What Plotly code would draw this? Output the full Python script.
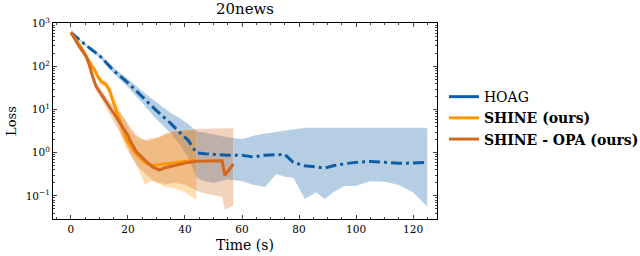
import plotly.graph_objects as go

# ---------------- data ----------------
hoag_t = [0, 5, 10, 15, 20, 25, 30, 35, 38, 41, 44, 47, 50, 55, 60, 64, 68, 72, 75, 78, 82, 86, 89, 92, 96, 100, 105, 110, 115, 120, 125]
hoag_y = [620, 320, 180, 80, 42, 20, 9.5, 4.8, 3.0, 2.0, 1.0, 0.95, 0.92, 0.88, 0.88, 0.8, 0.88, 0.92, 0.92, 0.6, 0.5, 0.47, 0.44, 0.5, 0.56, 0.6, 0.63, 0.6, 0.57, 0.58, 0.6]
hoag_hi = [650, 340, 200, 95, 52, 27, 15, 8.5, 6.5, 4.8, 3.2, 2.9, 2.7, 2.3, 2.1, 2.5, 2.8, 3.1, 3.3, 3.5, 3.8, 3.8, 3.8, 3.8, 3.8, 3.8, 3.8, 3.8, 3.8, 3.8, 3.8]
hoag_lo = [590, 300, 160, 68, 33, 14, 6.0, 2.8, 1.6, 0.8, 0.26, 0.22, 0.2, 0.24, 0.22, 0.18, 0.16, 0.32, 0.28, 0.26, 0.085, 0.12, 0.085, 0.12, 0.17, 0.17, 0.22, 0.21, 0.18, 0.12, 0.056]

shine_t = [0, 2, 4.1, 6.4, 8.2, 9.4, 10.5, 12.3, 13.4, 14.6, 15.8, 17, 18.1, 19.5, 21, 22.5, 24, 26, 28, 30, 33, 36, 40, 44]
shine_y = [620, 400, 245, 131, 86, 59, 46, 38, 29.5, 17, 10, 5.9, 3.5, 2.0, 1.4, 1.0, 0.8, 0.6, 0.5, 0.52, 0.55, 0.58, 0.64, 0.68]
shine_hi = [650, 440, 275, 150, 100, 70, 55, 46, 37, 23, 15, 10, 7, 5, 3.2, 2.5, 2.1, 2.0, 2.2, 2.3, 2.6, 3.0, 3.2, 3.4]
shine_lo = [590, 360, 215, 112, 72, 49, 38, 31, 23, 12, 6.5, 3.5, 2.0, 1.2, 0.85, 0.6, 0.35, 0.18, 0.22, 0.2, 0.16, 0.15, 0.12, 0.08]

opa_t = [0, 2.9, 5.3, 6.4, 7.6, 8.8, 11.1, 13.4, 15.8, 18.1, 19.9, 20.7, 23, 26.5, 29, 31, 33, 36, 40, 44, 48, 53, 54, 57]
opa_y = [620, 293, 173, 110, 59, 35, 20.5, 12, 7, 4.2, 2.6, 1.95, 1.05, 0.62, 0.45, 0.4, 0.45, 0.5, 0.58, 0.64, 0.65, 0.65, 0.3, 0.55]
opa_hi = [650, 330, 200, 130, 72, 43, 26, 16, 11, 7.5, 5, 4, 2.6, 1.9, 2.1, 2.3, 2.8, 3.3, 3.5, 3.6, 3.7, 3.7, 3.7, 3.7]
opa_lo = [590, 260, 150, 92, 48, 28, 15.5, 8, 4, 2.2, 1.3, 0.95, 0.5, 0.3, 0.22, 0.2, 0.18, 0.2, 0.18, 0.13, 0.11, 0.095, 0.047, 0.06]

x_ticks = [0, 20, 40, 60, 80, 100, 120]
y_tickvals = [0.1, 1, 10, 100, 1000]
y_ticktext = ["10<sup>\u22121</sup>", "10<sup>0</sup>", "10<sup>1</sup>", "10<sup>2</sup>", "10<sup>3</sup>"]

series_names = ["HOAG", "<b>SHINE (ours)</b>", "<b>SHINE - OPA (ours)</b>"]
colors = ["#0C5DA5", "#FF9500", "#D2691E"]
fills = ["rgba(12,93,165,0.3)", "rgba(255,149,0,0.3)", "rgba(210,105,30,0.3)"]

FONT = "DejaVu Serif"
XR = [-6.3, 128.4]
YR = [-1.535, 3.01]

fig = go.Figure()

series = [(hoag_t, hoag_y, hoag_hi, hoag_lo), (shine_t, shine_y, shine_hi, shine_lo), (opa_t, opa_y, opa_hi, opa_lo)]

# bands
for (t, y, hi, lo), fc in zip(series, fills):
    fig.add_trace(go.Scatter(x=list(t) + list(t)[::-1], y=list(hi) + list(lo)[::-1],
                             fill="toself", fillcolor=fc, mode="lines",
                             line=dict(width=0.8, color="rgba(255,255,255,0.35)"),
                             hoverinfo="skip", showlegend=False))

# lines
dashes = ["11px,4px,3px,4px", "solid", "solid"]
for (t, y, hi, lo), c, d in zip(series, colors, dashes):
    fig.add_trace(go.Scatter(x=t, y=y, mode="lines", line=dict(color=c, width=3, dash=d),
                             showlegend=False))

# legend entries
for name, c in zip(series_names, colors):
    fig.add_trace(go.Scatter(x=[None], y=[None], mode="lines", name=name,
                             line=dict(color=c, width=3)))

fig.update_layout(
    width=640, height=256,
    margin=dict(l=53, r=203, t=23, b=37, autoexpand=False),
    paper_bgcolor="white", plot_bgcolor="white",
    font=dict(family=FONT, size=13, color="black"),
    title=dict(text="20news", x=(245 / 640), xanchor="center", yref="container", y=0.966, yanchor="middle",
               font=dict(family=FONT, size=15)),
    legend=dict(x=1.018, xanchor="left", y=0.515, yanchor="middle",
                font=dict(family=FONT, size=14), bgcolor="rgba(0,0,0,0)"),
    showlegend=True,
)

common = dict(ticks="inside", ticklen=4, tickwidth=1, showline=True, linecolor="black",
              linewidth=1, showgrid=False, zeroline=False, automargin=False)

fig.update_xaxes(range=XR, tickvals=x_ticks,
                 tickfont=dict(family=FONT, size=10.5),
                 minor=dict(ticks="inside", ticklen=2, dtick=5, tick0=0, showgrid=False),
                 title=dict(text="Time (s)", font=dict(family=FONT, size=14), standoff=6),
                 **common)

fig.update_yaxes(type="log", range=YR, tickvals=y_tickvals, ticktext=y_ticktext,
                 tickfont=dict(family=FONT, size=10.5),
                 minor=dict(ticks="inside", ticklen=2, dtick="D1", showgrid=False),
                 title=dict(text="Loss", font=dict(family=FONT, size=13), standoff=6),
                 **common)

# mirrored frame with ticks on top and right
fig.update_layout(
    xaxis2=dict(overlaying="x", side="top", range=XR, tickvals=x_ticks, showticklabels=False,
                minor=dict(ticks="inside", ticklen=2, dtick=5, tick0=0, showgrid=False), **common),
    yaxis2=dict(overlaying="y", side="right", type="log", range=YR, tickvals=y_tickvals,
                showticklabels=False,
                minor=dict(ticks="inside", ticklen=2, dtick="D1", showgrid=False), **common),
)
fig.add_trace(go.Scatter(x=[None], y=[None], xaxis="x2", yaxis="y2", showlegend=False, hoverinfo="skip"))

fig.write_html("out.html",
               config={"responsive": False, "displayModeBar": False},
               post_script="document.body.style.margin='0';document.body.style.overflow='hidden';")
